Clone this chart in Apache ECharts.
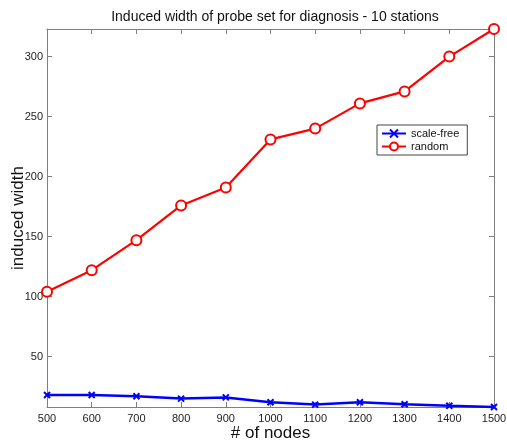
<!DOCTYPE html>
<html>
<head>
<meta charset="utf-8">
<script src="https://cdn.jsdelivr.net/npm/echarts@6/dist/echarts.min.js"></script>
<style>
  html, body { margin: 0; padding: 0; background: #fff; }
  #chart { width: 507px; height: 443px; }
</style>
</head>
<body>
<div id="chart"></div>
<script>
// Number of nodes in the network
const nodes = [500, 600, 700, 800, 900, 1000, 1100, 1200, 1300, 1400, 1500];
// Induced width per topology
const scaleFree = [18, 18, 17, 15, 16, 12, 10, 12, 10.3, 9, 8];
const randomNet = [104, 122, 147, 176, 191, 231, 240, 261, 271, 300, 323];
// Y tick labels
const yTicks = [50, 100, 150, 200, 250, 300];

const axisGray = '#7f7f7f';
const font = 'Arial, "Liberation Sans", sans-serif';
const xMark = 'path://M0,0L10,10M10,0L0,10';

const chart = echarts.init(document.getElementById('chart'), null, { renderer: 'canvas' });

const pairs = arr => nodes.map((n, i) => [n, arr[i]]);

chart.setOption({
  backgroundColor: '#fff',
  animation: false,
  title: {
    text: 'Induced width of probe set for diagnosis - 10 stations',
    left: 270, top: 5, textAlign: 'center',
    textStyle: { fontFamily: font, fontSize: 14, fontWeight: 'normal', color: '#111' }
  },
  legend: {
    left: 377, top: 125, orient: 'vertical',
    itemGap: 2, itemWidth: 24, itemHeight: 10,
    padding: [3, 8, 3, 4],
    borderColor: '#444', borderWidth: 1, backgroundColor: '#fff',
    textStyle: { fontFamily: font, fontSize: 11, color: '#111' },
    data: ['scale-free', 'random']
  },
  grid: { left: 47, right: 13, top: 29, bottom: 36, containLabel: false, outerBoundsMode: 'none' },
  xAxis: [{
    type: 'value', min: 500, max: 1500, interval: 100,
    name: '# of nodes', nameLocation: 'middle', nameGap: 18, nameMoveOverlap: false,
    nameTextStyle: { fontFamily: font, fontSize: 17, color: '#111' },
    axisLine: { show: true, lineStyle: { color: axisGray } },
    axisTick: { show: true, inside: true, length: 5, lineStyle: { color: axisGray } },
    axisLabel: { fontFamily: font, fontSize: 11, color: '#222', margin: 6, formatter: v => String(v) },
    splitLine: { show: false }
  }, {
    type: 'value', position: 'top', min: 500, max: 1500, interval: 100,
    axisLine: { show: true, lineStyle: { color: axisGray } },
    axisTick: { show: true, inside: true, length: 5, lineStyle: { color: axisGray } },
    axisLabel: { show: false },
    splitLine: { show: false }
  }],
  yAxis: [{
    type: 'value', min: 8, max: 323,
    name: 'induced width', nameLocation: 'middle', nameGap: 20, nameMoveOverlap: false,
    nameTextStyle: { fontFamily: font, fontSize: 17, color: '#111' },
    axisLine: { show: true, lineStyle: { color: axisGray } },
    axisTick: { show: true, inside: true, length: 5, customValues: yTicks, lineStyle: { color: axisGray } },
    axisLabel: { fontFamily: font, fontSize: 11, color: '#222', margin: 4, customValues: yTicks },
    splitLine: { show: false }
  }, {
    type: 'value', position: 'right', min: 8, max: 323,
    axisLine: { show: true, lineStyle: { color: axisGray } },
    axisTick: { show: true, inside: true, length: 5, customValues: yTicks, lineStyle: { color: axisGray } },
    axisLabel: { show: false },
    splitLine: { show: false }
  }],
  series: [{
    name: 'scale-free', type: 'line', data: pairs(scaleFree),
    symbol: xMark, symbolSize: 6, showAllSymbol: true,
    lineStyle: { color: '#0000ff', width: 2.5 },
    itemStyle: { color: '#0000ff', borderColor: '#0000ff', borderWidth: 2 },
    clip: false
  }, {
    name: 'random', type: 'line', data: pairs(randomNet),
    symbol: 'circle', symbolSize: 10, showAllSymbol: true,
    lineStyle: { color: '#ff0000', width: 2.2 },
    itemStyle: { color: '#fff', borderColor: '#ff0000', borderWidth: 2 },
    clip: false
  }]
});
</script>
</body>
</html>
